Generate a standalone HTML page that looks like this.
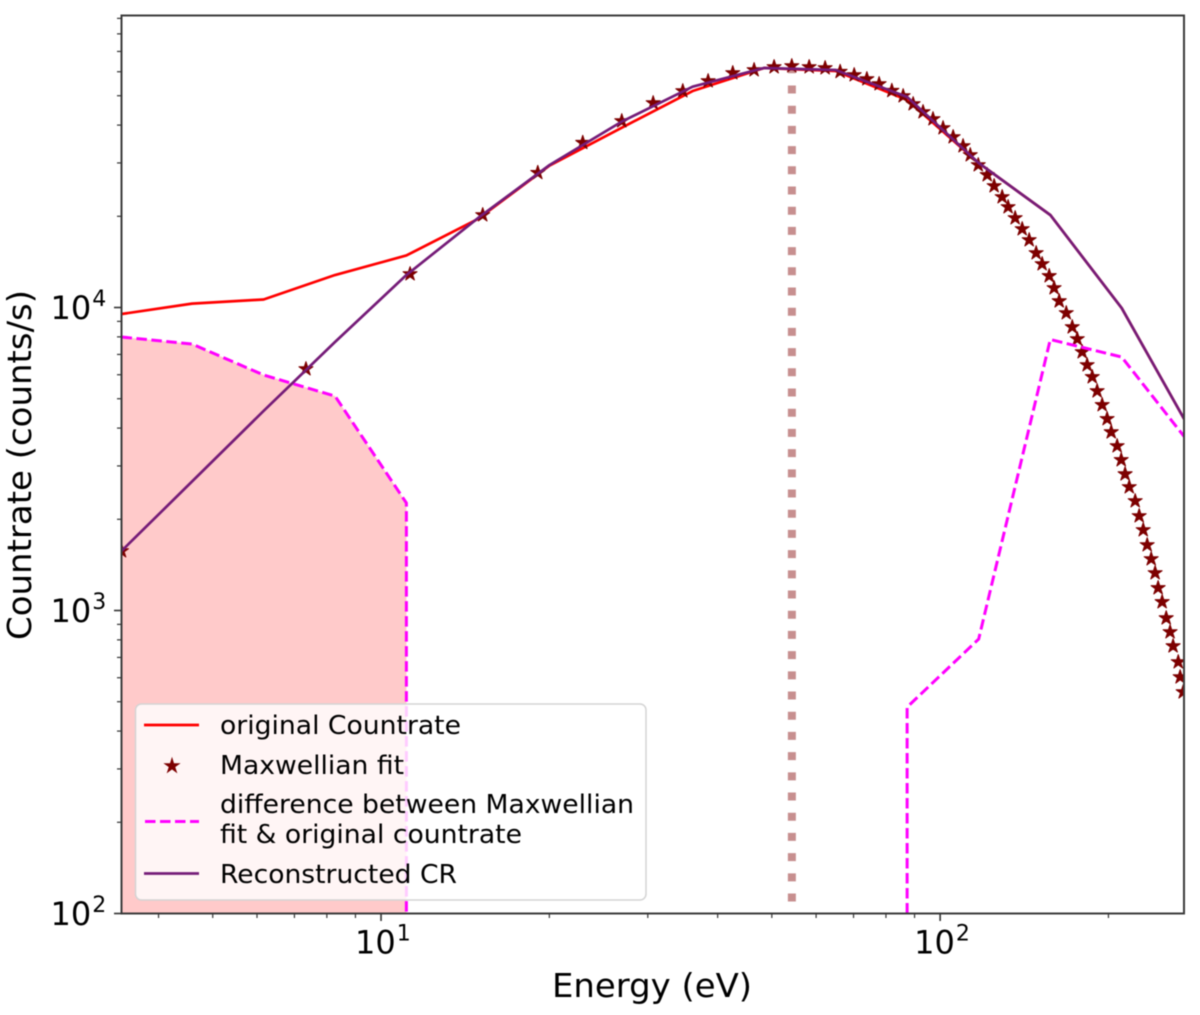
<!DOCTYPE html>
<html lang="en">
<head>
<meta charset="utf-8">
<title>Countrate vs Energy</title>
<style>
html,body{margin:0;padding:0;background:#fff;}
svg{display:block;filter:blur(0.45px);}
text{font-family:"DejaVu Sans","Liberation Sans",sans-serif;fill:#000;}
</style>
</head>
<body>
<svg id="chart" width="1200" height="1015" viewBox="0 0 1200 1015" xmlns="http://www.w3.org/2000/svg">
  <defs>
    <clipPath id="plot-clip"><rect x="121.5" y="15.5" width="1062.5" height="898"></rect></clipPath>
  </defs>
  <rect x="0" y="0" width="1200" height="1015" fill="#fff"></rect>
  <g id="marks" clip-path="url(#plot-clip)"></g>
  <g id="axes"></g>

  <text x="552" y="997" font-size="33" textLength="200" lengthAdjust="spacingAndGlyphs">Energy (eV)</text>
  <text transform="translate(31,640) rotate(-90)" x="0" y="0" font-size="33" textLength="350" lengthAdjust="spacingAndGlyphs">Countrate (counts/s)</text>

  <g>
    <rect x="135.5" y="704" width="510.5" height="196" rx="6" ry="6" fill="rgba(255,255,255,0.8)" stroke="#d4d4d4" stroke-width="1.5"></rect>
    <line x1="144" y1="725" x2="199" y2="725" stroke="#ff0000" stroke-width="2.7"></line>
    <polygon points="172,758.5 173.6,763.7 179.1,763.7 174.7,766.9 176.4,772.1 172,768.9 167.6,772.1 169.3,766.9 164.9,763.7 170.4,763.7" fill="#7d0000" stroke="#7d0000" stroke-width="1"></polygon>
    <line x1="145" y1="821.5" x2="199" y2="821.5" stroke="#ff00ff" stroke-width="3" stroke-dasharray="10.5 4.5"></line>
    <line x1="144" y1="873.5" x2="199" y2="873.5" stroke="#751c78" stroke-width="2.7"></line>
    <text x="220" y="734" font-size="26" textLength="241" lengthAdjust="spacingAndGlyphs">original Countrate</text>
    <text x="220" y="774" font-size="26" textLength="184" lengthAdjust="spacingAndGlyphs">Maxwellian fit</text>
    <text x="220" y="813" font-size="26" textLength="414" lengthAdjust="spacingAndGlyphs">difference between Maxwellian</text>
    <text x="220" y="843" font-size="26" textLength="302" lengthAdjust="spacingAndGlyphs">fit &amp; original countrate</text>
    <text x="220" y="883" font-size="26" textLength="237" lengthAdjust="spacingAndGlyphs">Reconstructed CR</text>
  </g>
</svg>

<script>
const xLimits = [3.434, 273];
const yLimits = [100, 91990];

const energyGrid = [3.434, 4.591, 6.165, 8.273, 11.10, 14.91, 20.02, 26.88, 36.08, 48.45, 65.04, 87.29, 117.2, 157.4, 211.2, 283.5];
const originalCountrate = [9517, 10300, 10630, 12800, 14850, 19600, 29420, 39120, 51820, 61730, 60330, 48400, 29980, 20200, 9960, 3795];
const reconstructedCR = [1572, 2665, 4556, 7694, 12800, 19740, 29540, 40960, 53550, 61730, 60800, 49540, 29980, 20200, 9960, 3795];

const fitEnergy = [3.434, 7.34, 11.27, 15.2, 19.07, 22.95, 26.95, 30.67, 34.65, 38.46, 42.57, 46.48, 50.47, 54.28, 58.31, 62.27, 66.24, 70.19, 73.95, 77.78, 81.96, 85.87, 89.48, 93.2, 97.1, 101.2, 105.5, 109.9, 113.2, 117, 121.4, 124.9, 129.1, 132.3, 136.2, 140.2, 144.3, 148.5, 152.2, 156.7, 159.9, 163.3, 168.1, 172.3, 175.9, 179.5, 183.2, 187.1, 190.9, 194.9, 198.9, 202.3, 207.3, 210.8, 214.2, 217.9, 223.3, 227, 230.8, 234.6, 238.5, 242.4, 245.4, 249.5, 253.7, 257.8, 261, 266.6, 268.7, 272.1];
const fitCountrate = [1572, 6266, 12900, 20200, 27850, 34990, 41260, 47300, 51820, 55910, 59430, 60800, 62200, 62670, 62200, 61730, 60020, 58530, 56780, 54670, 51940, 49890, 46950, 44190, 41890, 39120, 36540, 34120, 31860, 29540, 27380, 25180, 23160, 21460, 19740, 18160, 16700, 15130, 13920, 12710, 11600, 10500, 9590, 8620, 7870, 7130, 6460, 5900, 5300, 4770, 4290, 3880, 3490, 3140, 2820, 2556, 2298, 2051, 1844, 1645, 1479, 1330, 1187, 1067, 944, 849, 763, 676, 603, 538];

const diffLowEnergy = [3.434, 4.591, 6.165, 8.273, 11.10, 11.10];
const diffLowCountrate = [7991, 7577, 5988, 5102, 2264, 100];
const diffHighEnergy = [87.29, 87.29, 117.2, 157.4, 211.2, 283.5];
const diffHighCountrate = [100, 480, 805, 7840, 6865, 3438];

const peakEnergy = [54.3];
const peakLineRange = [100, 63000];

const xMajorTicks = [10, 100];
const xMajorExponents = ['1', '2'];
const xMinorTicks = [4, 5, 6, 7, 8, 9, 20, 30, 40, 50, 60, 70, 80, 90, 200];
const yMajorTicks = [100, 1000, 10000];
const yMajorExponents = ['2', '3', '4'];
const yMinorTicks = [200, 300, 400, 500, 600, 700, 800, 900, 2000, 3000, 4000, 5000, 6000, 7000, 8000, 9000, 20000, 30000, 40000, 50000, 60000, 70000, 80000, 90000];

const plotLeft = 121.5, plotRight = 1184, plotTop = 15.5, plotBottom = 913.5;
const SVGNS = 'http://www.w3.org/2000/svg';

function xScale(e) {
  const a = Math.log10(xLimits[0]), b = Math.log10(xLimits[1]);
  return plotLeft + (Math.log10(e) - a) / (b - a) * (plotRight - plotLeft);
}
function yScale(c) {
  const a = Math.log10(yLimits[0]), b = Math.log10(yLimits[1]);
  return plotBottom - (Math.log10(c) - a) / (b - a) * (plotBottom - plotTop);
}
function linePoints(xs, ys) {
  return xs.map(function (e, i) { return xScale(e).toFixed(2) + ',' + yScale(ys[i]).toFixed(2); }).join(' ');
}
function starPoints(cx, cy, outer) {
  const inner = outer * 0.382, pts = [];
  for (let i = 0; i < 10; i++) {
    const r = i % 2 === 0 ? outer : inner;
    const ang = -Math.PI / 2 + i * Math.PI / 5;
    pts.push((cx + r * Math.cos(ang)).toFixed(2) + ',' + (cy + r * Math.sin(ang)).toFixed(2));
  }
  return pts.join(' ');
}

const marks = document.getElementById('marks');
const axes = document.getElementById('axes');

/* shaded region under the low-energy difference curve */
const fillPoly = document.createElementNS(SVGNS, 'polygon');


fillPoly.setAttribute('points', linePoints(diffLowEnergy, diffLowCountrate) + ' ' + xScale(xLimits[0]) + ',' + yScale(yLimits[0]));
fillPoly.setAttribute('fill', '#ffcaca');
marks.appendChild(fillPoly);

/* original countrate */
const redLine = document.createElementNS(SVGNS, 'polyline');


redLine.setAttribute('points', linePoints(energyGrid, originalCountrate));
redLine.setAttribute('fill', 'none');
redLine.setAttribute('stroke', '#ff0000');
redLine.setAttribute('stroke-width', '2.7');
redLine.setAttribute('stroke-linejoin', 'round');
marks.appendChild(redLine);

/* peak marker line */
const peakLine = document.createElementNS(SVGNS, 'line');


peakLine.setAttribute('x1', xScale(peakEnergy[0]));
peakLine.setAttribute('x2', xScale(peakEnergy[0]));
peakLine.setAttribute('y1', yScale(peakLineRange[1]));
peakLine.setAttribute('y2', yScale(peakLineRange[0]));
peakLine.setAttribute('stroke', 'rgba(128,0,0,0.44)');
peakLine.setAttribute('stroke-width', '8');
peakLine.setAttribute('stroke-dasharray', '8 12.2');
marks.appendChild(peakLine);

/* Maxwellian fit stars */
fitEnergy.forEach(function (e, i) {
  const star = document.createElementNS(SVGNS, 'polygon');
  
  
  star.setAttribute('points', starPoints(xScale(e), yScale(fitCountrate[i]), 7.4));
  star.setAttribute('fill', '#7d0000');
  star.setAttribute('stroke', '#7d0000');
  star.setAttribute('stroke-width', '1');
  star.setAttribute('stroke-linejoin', 'round');
  marks.appendChild(star);
});

/* difference curves */
const diffLow = document.createElementNS(SVGNS, 'polyline');


diffLow.setAttribute('points', linePoints(diffLowEnergy, diffLowCountrate));
diffLow.setAttribute('fill', 'none');
diffLow.setAttribute('stroke', '#ff00ff');
diffLow.setAttribute('stroke-width', '3');
diffLow.setAttribute('stroke-dasharray', '10.5 4.5');
marks.appendChild(diffLow);

const diffHigh = document.createElementNS(SVGNS, 'polyline');


diffHigh.setAttribute('points', linePoints(diffHighEnergy, diffHighCountrate));
diffHigh.setAttribute('fill', 'none');
diffHigh.setAttribute('stroke', '#ff00ff');
diffHigh.setAttribute('stroke-width', '3');
diffHigh.setAttribute('stroke-dasharray', '10.5 4.5');
marks.appendChild(diffHigh);

/* reconstructed */
const purpleLine = document.createElementNS(SVGNS, 'polyline');


purpleLine.setAttribute('points', linePoints(energyGrid, reconstructedCR));
purpleLine.setAttribute('fill', 'none');
purpleLine.setAttribute('stroke', '#751c78');
purpleLine.setAttribute('stroke-width', '2.7');
purpleLine.setAttribute('stroke-linejoin', 'round');
marks.appendChild(purpleLine);

/* axes frame */
const frame = document.createElementNS(SVGNS, 'rect');


frame.setAttribute('x', plotLeft);
frame.setAttribute('y', plotTop);
frame.setAttribute('width', plotRight - plotLeft);
frame.setAttribute('height', plotBottom - plotTop);
frame.setAttribute('fill', 'none');
frame.setAttribute('stroke', '#3c3c3c');
frame.setAttribute('stroke-width', '2');
axes.appendChild(frame);

/* ticks */
xMinorTicks.forEach(function (v) {
  const t = document.createElementNS(SVGNS, 'line');
  
  
  t.setAttribute('x1', xScale(v));
  t.setAttribute('x2', xScale(v));
  t.setAttribute('y1', plotBottom);
  t.setAttribute('y2', plotBottom + 4.5);
  t.setAttribute('stroke', '#333');
  t.setAttribute('stroke-width', '1.2');
  axes.appendChild(t);
});
yMinorTicks.forEach(function (v) {
  const t = document.createElementNS(SVGNS, 'line');
  
  
  t.setAttribute('x1', plotLeft - 4.5);
  t.setAttribute('x2', plotLeft);
  t.setAttribute('y1', yScale(v));
  t.setAttribute('y2', yScale(v));
  t.setAttribute('stroke', '#333');
  t.setAttribute('stroke-width', '1.2');
  axes.appendChild(t);
});
xMajorTicks.forEach(function (v, i) {
  const t = document.createElementNS(SVGNS, 'line');
  
  
  t.setAttribute('x1', xScale(v));
  t.setAttribute('x2', xScale(v));
  t.setAttribute('y1', plotBottom);
  t.setAttribute('y2', plotBottom + 7.5);
  t.setAttribute('stroke', '#333');
  t.setAttribute('stroke-width', '1.6');
  axes.appendChild(t);

  const label = document.createElementNS(SVGNS, 'text');
  
  
  label.setAttribute('x', xScale(v) - 26);
  label.setAttribute('y', 953.5);
  label.setAttribute('font-size', '32');
  const base = document.createElementNS(SVGNS, 'tspan');
  base.textContent = '10';
  label.appendChild(base);
  const sup = document.createElementNS(SVGNS, 'tspan');
  sup.setAttribute('font-size', '22');
  sup.setAttribute('dy', '-13');
  sup.setAttribute('dx', '1');
  sup.textContent = xMajorExponents[i];
  label.appendChild(sup);
  axes.appendChild(label);
});
yMajorTicks.forEach(function (v, i) {
  const t = document.createElementNS(SVGNS, 'line');
  
  
  t.setAttribute('x1', plotLeft - 7.5);
  t.setAttribute('x2', plotLeft);
  t.setAttribute('y1', yScale(v));
  t.setAttribute('y2', yScale(v));
  t.setAttribute('stroke', '#333');
  t.setAttribute('stroke-width', '1.6');
  axes.appendChild(t);

  const label = document.createElementNS(SVGNS, 'text');
  
  
  label.setAttribute('x', 50.5);
  label.setAttribute('y', yScale(v) + 11.5);
  label.setAttribute('font-size', '32');
  const base = document.createElementNS(SVGNS, 'tspan');
  base.textContent = '10';
  label.appendChild(base);
  const sup = document.createElementNS(SVGNS, 'tspan');
  sup.setAttribute('font-size', '22');
  sup.setAttribute('dy', '-13');
  sup.setAttribute('dx', '1');
  sup.textContent = yMajorExponents[i];
  label.appendChild(sup);
  axes.appendChild(label);
});
</script>
</body>
</html>
